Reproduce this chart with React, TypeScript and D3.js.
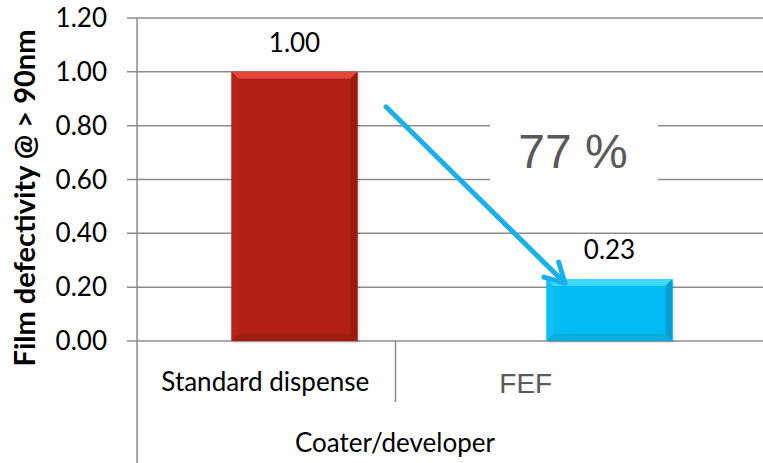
import React from "react";
import * as d3 from "d3";

// Film defectivity by coater/developer process
const categories = ["Standard dispense", "FEF"];
const values = [1.0, 0.23];
const valueLabels = ["1.00", "0.23"];
const yTicks = [0, 0.2, 0.4, 0.6, 0.8, 1.0, 1.2];
const reductionLabel = "77 %";
const yTitle = "Film defectivity @ > 90nm";
const xTitle = "Coater/developer";

const W = 763;
const H = 463;
const left = 137;
const top = 18;
const bottom = 341;
const right = 767;

const FONT = "Lato, 'Open Sans', sans-serif";
const ARIAL = "'Liberation Sans', Arial, sans-serif";

const barStyles = [
  { main: "#b01f15", topB: "#e4463a", leftB: "#b8241a", rightB: "#9a1a11", bottomB: "#a31c12" },
  { main: "#03bcf4", topB: "#40d8ff", leftB: "#10c2f6", rightB: "#00a0d4", bottomB: "#00aee2" },
];

export default function App() {
  const y = d3.scaleLinear().domain([0, 1.2]).range([bottom, top]);
  const x = d3.scaleBand<string>().domain(categories).range([left, right]).paddingInner(0.6).paddingOuter(0.3);
  const xLab = d3.scaleBand<string>().domain(categories).range([left - 2, 656]);

  const bev = 7;
  const bars = categories.map((c, i) => {
    const x0 = x(c)!;
    const x1 = x0 + x.bandwidth();
    const y0 = y(values[i]);
    const y1 = y(0);
    const s = barStyles[i];
    return (
      <g key={c}>
        <rect x={x0 + 2} y={y0 + 2} width={x1 - x0} height={y1 - y0} fill="#000" opacity={0.1} />
        <rect x={x0} y={y0} width={x1 - x0} height={y1 - y0} fill={s.main} />
        <polygon points={`${x0},${y0} ${x1},${y0} ${x1 - bev},${y0 + bev} ${x0 + bev},${y0 + bev}`} fill={s.topB} />
        <polygon points={`${x0},${y0} ${x0 + bev},${y0 + bev} ${x0 + bev},${y1 - bev} ${x0},${y1}`} fill={s.leftB} />
        <polygon points={`${x1},${y0} ${x1},${y1} ${x1 - bev},${y1 - bev} ${x1 - bev},${y0 + bev}`} fill={s.rightB} />
        <polygon points={`${x0},${y1} ${x1},${y1} ${x1 - bev},${y1 - bev} ${x0 + bev},${y1 - bev}`} fill={s.bottomB} />
        <text x={(x0 + x1) / 2} y={y0 - 20} textAnchor="middle" fontFamily={FONT} fontSize={26} fill="#000">
          {valueLabels[i]}
        </text>
      </g>
    );
  });

  // arrow from first bar's level down to the second bar's top
  const ax0 = 386, ay0 = y(0.87);
  const ax1 = 565, ay1 = y(0.215);
  const ang = Math.atan2(ay1 - ay0, ax1 - ax0);
  const hl = 22;
  const h1 = [ax1 - hl * Math.cos(ang - 0.5), ay1 - hl * Math.sin(ang - 0.5)];
  const h2 = [ax1 - hl * Math.cos(ang + 0.5), ay1 - hl * Math.sin(ang + 0.5)];

  return (
    <svg width={W} height={H} style={{ position: "fixed", left: 0, top: 0, background: "#fff" }}>
      <rect width={W} height={H} fill="#fff" />
      {yTicks.map((t) => (
        <g key={t}>
          <line x1={left - 10} x2={right} y1={y(t)} y2={y(t)} stroke="#8c8c8c" strokeWidth={1.5} />
          <text x={107} y={y(t) + 9} textAnchor="end" fontFamily={FONT} fontSize={26} fill="#000">
            {t.toFixed(2)}
          </text>
        </g>
      ))}
      <line x1={left} x2={left} y1={top} y2={H} stroke="#8c8c8c" strokeWidth={1.5} />
      <line x1={xLab(categories[1])!} x2={xLab(categories[1])!} y1={bottom} y2={402} stroke="#8c8c8c" strokeWidth={1.5} />
      {bars}
      <rect x={490} y={112} width={168} height={74} fill="#fff" />
      <text x={573} y={168} textAnchor="middle" fontFamily={ARIAL} fontSize={48} fill="#595959">
        {reductionLabel}
      </text>
      <g stroke="#1ab1ea" strokeWidth={5} strokeLinecap="round" fill="none">
        <line x1={ax0} y1={ay0} x2={ax1} y2={ay1} />
        <polyline points={`${h1[0]},${h1[1]} ${ax1},${ay1} ${h2[0]},${h2[1]}`} strokeLinejoin="round" />
      </g>
      {categories.map((c, i) => (
        <text
          key={c}
          x={xLab(c)! + xLab.bandwidth() / 2}
          y={i === 0 ? 391 : 393}
          textAnchor="middle"
          fontFamily={i === 0 ? FONT : ARIAL}
          fontSize={i === 0 ? 26 : 28}
          fill={i === 0 ? "#000" : "#595959"}
        >
          {c}
        </text>
      ))}
      <text x={395} y={452} textAnchor="middle" fontFamily={FONT} fontSize={26} fill="#000">
        {xTitle}
      </text>
      <text
        transform={`translate(35, 198) rotate(-90)`}
        textAnchor="middle"
        fontFamily={FONT}
        fontWeight="bold"
        fontSize={29}
        fill="#000"
      >
        {yTitle}
      </text>
    </svg>
  );
}
